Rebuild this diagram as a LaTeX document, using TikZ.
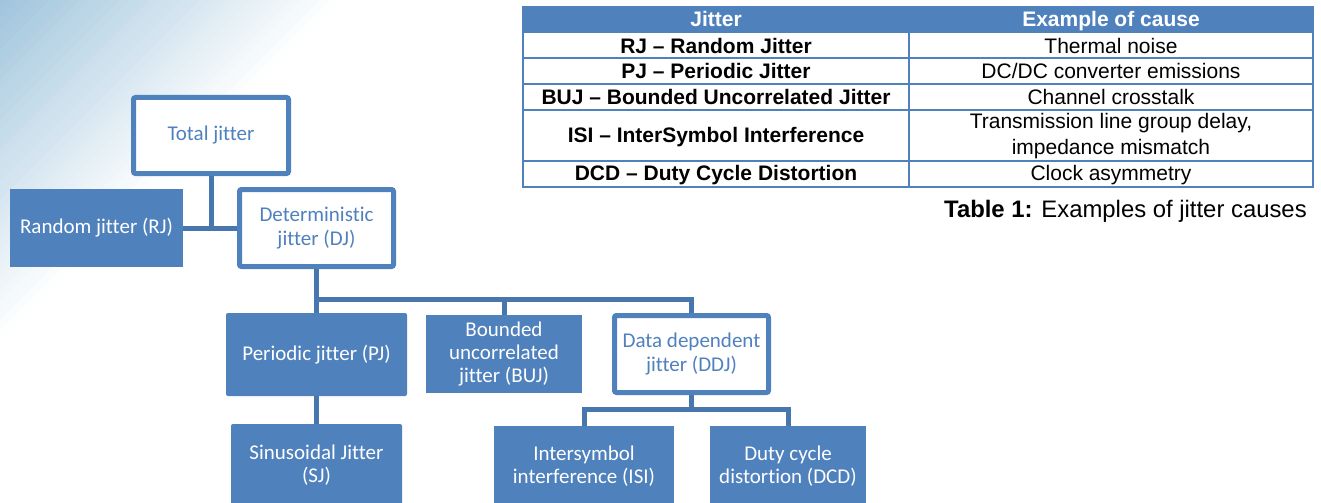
\documentclass[tikz,border=0pt]{standalone}
\usepackage{fontspec}
\setmainfont{Carlito}[Ligatures={NoCommon}]
\newfontfamily\arialfont{Liberation Sans}
\usepackage{tikz}

\definecolor{jblue}{RGB}{79,129,189}
\definecolor{jline}{RGB}{72,118,174}
\definecolor{bgblue}{RGB}{160,197,220}

\begin{document}
\begin{tikzpicture}[x=0.75pt,y=0.75pt,yscale=-1,xscale=1,
  fullbox/.style={fill=jblue, text=white, inner sep=0pt, align=center, font=\fontsize{15.75}{17.5}\selectfont},
  openbox/.style={draw=jblue, line width=3.75pt, fill=white, text=jblue, rounded corners=1.5pt, inner sep=0pt, align=center, font=\fontsize{15.75}{17.5}\selectfont},
  conn/.style={draw=jline, line width=3.75pt},
  tline/.style={draw=jblue, line width=1pt},
  ttext/.style={anchor=base, inner sep=0pt, font=\arialfont\fontsize{15.75}{18}\selectfont}]
\useasboundingbox (0,0) rectangle (1321,503);

%Background fade in the top left corner
\foreach \i [evaluate=\i as \p using {int(100-\i*100/34)}] in {0,...,34}
  \fill[bgblue!\p!white] (\i*10,0) -- (\i*10+10.5,0) -- (0,\i*10+10.5) -- (0,\i*10) -- cycle;

%Tree boxes
\node[openbox, minimum width=116.25pt, minimum height=57pt] (total) at (211,135.5) {Total jitter};
\node[fullbox, minimum width=129.75pt, minimum height=58.5pt] (rj) at (96.5,228) {Random jitter (RJ)};
\node[openbox, minimum width=115.5pt, minimum height=57.75pt] (dj) at (316.5,228) {Deterministic\\jitter (DJ)};
\node[fullbox, rounded corners=1.5pt, minimum width=135.75pt, minimum height=62.25pt] (pj) at (316.5,354.5) {Periodic jitter (PJ)};
\node[fullbox, minimum width=117pt, minimum height=58.5pt] (buj) at (504,354) {Bounded\\uncorrelated\\jitter (BUJ)};
\node[openbox, minimum width=115.5pt, minimum height=57.75pt] (ddj) at (691.5,354) {Data dependent\\jitter (DDJ)};
\node[fullbox, rounded corners=1.5pt, minimum width=128.25pt, minimum height=61.5pt] (sj) at (316.5,465) {Sinusoidal Jitter\\(SJ)};
\node[fullbox, minimum width=135pt, minimum height=60pt] (isi) at (584,466) {Intersymbol\\interference (ISI)};
\node[fullbox, minimum width=117pt, minimum height=60pt] (dcd) at (788,466) {Duty cycle\\distortion (DCD)};

%Connectors
\coordinate (bus1) at (316.5,299);
\coordinate (bus2) at (691.5,409);
\draw[conn] (total.south) -- (total.south |- rj.east);
\draw[conn] (rj.east) -- (dj.west);
\draw[conn] (dj.south) -- (pj.north);
\draw[conn] (bus1) -| (ddj.north);
\draw[conn] (buj.north |- bus1) -- (buj.north);
\draw[conn] (pj.south) -- (sj.north);
\draw[conn] (ddj.south) -- (bus2);
\draw[conn] (isi.north) |- (bus2) -| (dcd.north);

%Table
\fill[jblue] (522.7,7.3) rectangle (1313,33);
\draw[tline] (522.7,58) -- (1313,58);
\draw[tline] (522.7,84) -- (1313,84);
\draw[tline] (522.7,110) -- (1313,110);
\draw[tline] (522.7,161) -- (1313,161);
\draw[tline] (909,33) -- (909,186.7);
\draw[draw=jblue, line width=1.5pt] (522.7,7.3) rectangle (1313,186.7);

\node[ttext, text=white] (hjit) at (716,26.7) {\bfseries Jitter};
\node[ttext, text=white] (hcause) at (1111,26.7) {\bfseries Example of cause};
\node[ttext] (rjname) at (716,53.3) {\bfseries RJ – Random Jitter};
\node[ttext] (rjcause) at (1111,53.3) {Thermal noise};
\node[ttext] (pjname) at (716,79) {\bfseries PJ – Periodic Jitter};
\node[ttext] (pjcause) at (1111,79) {DC/DC converter emissions};
\node[ttext] (bujname) at (716,104.3) {\bfseries BUJ – Bounded Uncorrelated Jitter};
\node[ttext] (bujcause) at (1111,104.3) {Channel crosstalk};
\node[ttext] (isiname) at (716,142.7) {\bfseries ISI – InterSymbol Interference};
\node[ttext] (isicause) at (1111,128.3) {Transmission line group delay,};
\node[ttext] (isicauseb) at (1111,154) {impedance mismatch};
\node[ttext] (dcdname) at (716,180.5) {\bfseries DCD – Duty Cycle Distortion};
\node[ttext] (dcdcause) at (1111,180.5) {Clock asymmetry};

\node[anchor=base east, inner sep=0pt, font=\arialfont\fontsize{17.9}{20}\selectfont] (caption) at (1307,217.3) {\textbf{Table 1:} Examples of jitter causes};

\end{tikzpicture}
\end{document}
